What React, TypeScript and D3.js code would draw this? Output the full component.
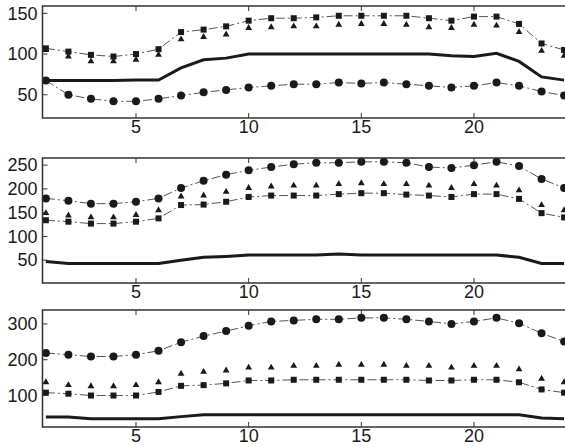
import React from 'react';
import * as d3 from 'd3';

// x positions (hours 1..24)
const hours = d3.range(1, 25);

// panel 1
const p1Square = [107, 103, 99, 97, 100, 106, 127, 130, 134, 141, 144, 144, 145, 147, 147, 147, 147, 144, 141, 146, 146, 137, 113, 105];
const p1Tri = [105, 97, 91, 91, 93, 99, 118, 121, 124, 132, 133, 134, 134, 136, 137, 137, 136, 133, 132, 136, 135, 127, 104, 98];
const p1Solid = [67.5, 67.5, 67.5, 67.5, 68, 68, 83, 93, 95, 100, 100, 100, 100, 100, 100, 100, 100, 100, 98, 97, 101, 91, 72, 68];
const p1Circle = [67.5, 50, 45, 42, 42, 45, 49, 53, 56, 59, 61, 63, 63, 65, 64, 65, 63, 61, 59, 61, 65, 61, 54, 49];

// panel 2
const p2Circle = [180, 175, 169, 169, 173, 180, 202, 217, 230, 239, 246, 252, 255, 255, 257, 257, 255, 246, 244, 250, 257, 248, 221, 202];
const p2Tri = [149, 144, 140, 140, 145, 155, 184, 186, 194, 202, 205, 207, 207, 210, 212, 210, 210, 207, 202, 210, 207, 197, 166, 155];
const p2Square = [134, 131, 127, 127, 131, 138, 166, 167, 173, 183, 186, 186, 186, 189, 191, 191, 188, 186, 183, 189, 189, 179, 149, 140];
const p2Solid = [47, 43, 43, 43, 43, 43, 50, 56, 58, 61, 61, 61, 61, 63, 61, 61, 61, 61, 61, 61, 61, 56, 43, 43];

// panel 3
const p3Circle = [219, 214, 209, 209, 214, 225, 249, 266, 280, 295, 307, 310, 313, 313, 317, 317, 313, 307, 300, 307, 317, 302, 274, 251];
const p3Tri = [137, 129, 126, 126, 129, 137, 161, 166, 170, 178, 178, 183, 183, 186, 186, 186, 183, 183, 178, 183, 183, 173, 147, 137];
const p3Square = [108, 105, 100, 100, 100, 110, 127, 129, 134, 142, 142, 144, 144, 144, 144, 144, 144, 142, 142, 144, 144, 137, 117, 108];
const p3Solid = [40, 40, 35, 35, 35, 35, 41, 46, 46, 46, 46, 46, 46, 46, 46, 46, 46, 46, 46, 46, 46, 46, 37, 35];

const xTicks = [5, 10, 15, 20];

const panels = [
  { top: 6, bottom: 118, yDomain: [21.5, 159], yTicks: [50, 100, 150], square: p1Square, tri: p1Tri, solid: p1Solid, circle: p1Circle },
  { top: 158, bottom: 283, yDomain: [2, 265], yTicks: [50, 100, 150, 200, 250], square: p2Square, tri: p2Tri, solid: p2Solid, circle: p2Circle },
  { top: 310, bottom: 427, yDomain: [12, 339], yTicks: [100, 200, 300], square: p3Square, tri: p3Tri, solid: p3Solid, circle: p3Circle },
];

const left = 42.5;
const right = 565;
const ink = '#1a1a1a';
const dash = '9,3,2,3';

function Panel({ p }: { p: (typeof panels)[number] }) {
  const x = d3.scaleLinear().domain([0.85, 24.04]).range([left, right]);
  const y = d3.scaleLinear().domain(p.yDomain).range([p.bottom, p.top]);
  const line = d3
    .line<number>()
    .x((d, i) => x(hours[i]))
    .y((d) => y(d));
  const tri = d3.symbol().type(d3.symbolTriangle).size(20)();

  return (
    <g>
      {/* thick solid series */}
      <path d={line(p.solid) || ''} fill="none" stroke={ink} strokeWidth={3} />
      {/* dash-dot series */}
      <path d={line(p.square) || ''} fill="none" stroke="#555" strokeWidth={1} strokeDasharray={dash} />
      <path d={line(p.circle) || ''} fill="none" stroke="#555" strokeWidth={1} strokeDasharray={dash} />
      {p.square.map((v, i) => (
        <rect key={'s' + i} x={x(hours[i]) - 3} y={y(v) - 3} width={6} height={6} fill={ink} />
      ))}
      {p.tri.map((v, i) => (
        <path key={'t' + i} d={tri || ''} transform={`translate(${x(hours[i])},${y(v)})`} fill={ink} />
      ))}
      {p.circle.map((v, i) => (
        <circle key={'c' + i} cx={x(hours[i])} cy={y(v)} r={4} fill={ink} />
      ))}
      {/* axes box */}
      <rect x={left} y={p.top} width={right - left + 2} height={p.bottom - p.top} fill="none" stroke="#333" strokeWidth={1.5} />
      {xTicks.map((t) => (
        <g key={'x' + t}>
          <line x1={x(t)} x2={x(t)} y1={p.bottom} y2={p.bottom - 5} stroke="#333" />
          <line x1={x(t)} x2={x(t)} y1={p.top} y2={p.top + 5} stroke="#333" />
          <text x={x(t)} y={p.bottom + 15} textAnchor="middle" fontSize={18} fill={ink}>
            {t}
          </text>
        </g>
      ))}
      {p.yTicks.map((t) => (
        <g key={'y' + t}>
          <line x1={left} x2={left + 5} y1={y(t)} y2={y(t)} stroke="#333" />
          <text x={left - 5} y={y(t)} dy="0.35em" textAnchor="end" fontSize={18} fill={ink}>
            {t}
          </text>
        </g>
      ))}
    </g>
  );
}

export default function App() {
  return (
    <svg
      width={565}
      height={446}
      style={{ position: 'absolute', left: 0, top: 0, background: '#fff', fontFamily: 'Liberation Sans, Arial, sans-serif' }}
    >
      {panels.map((p, i) => (
        <Panel key={i} p={p} />
      ))}
    </svg>
  );
}
